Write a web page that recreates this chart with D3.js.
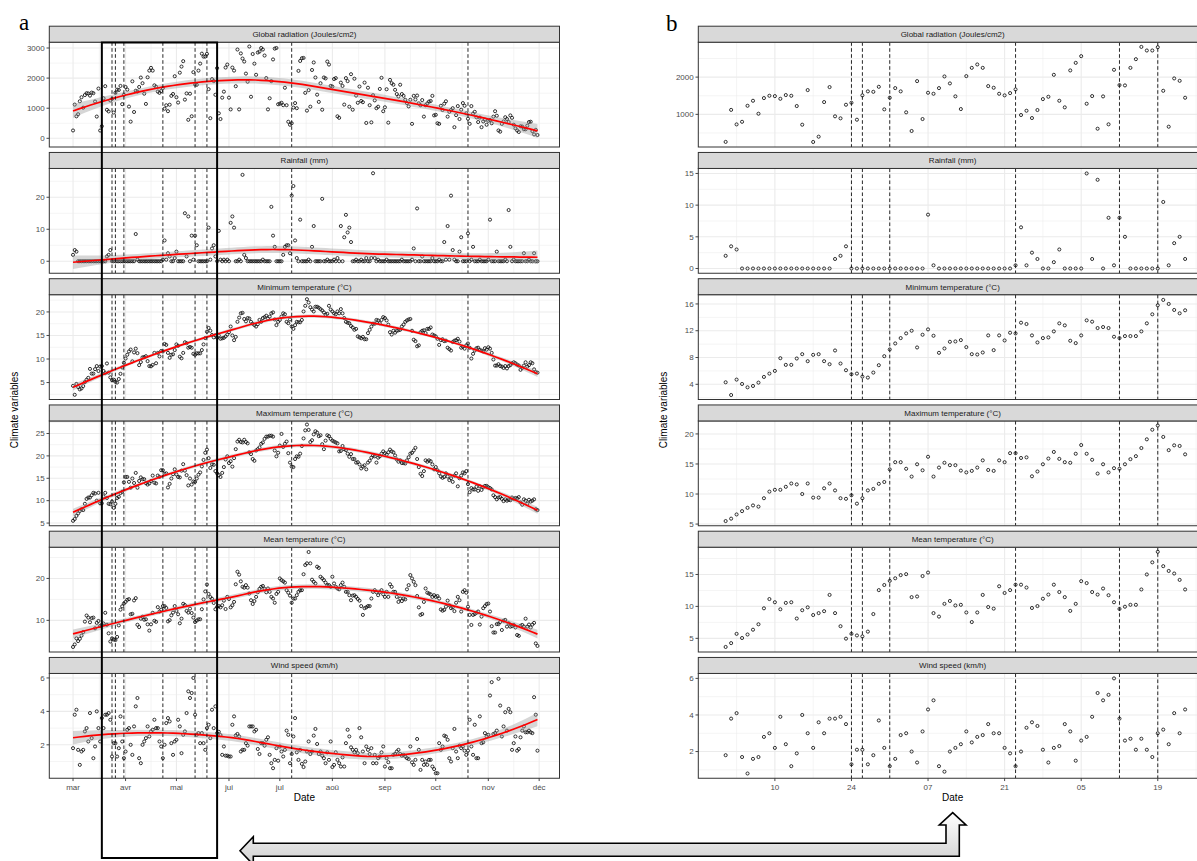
<!DOCTYPE html>
<html><head><meta charset="utf-8">
<script src="https://cdn.jsdelivr.net/npm/d3@7"></script>
<style>body{margin:0;background:#fff}svg text{font-family:"Liberation Sans",Arial,Helvetica,sans-serif}svg text.letter{font-family:"Liberation Serif","Times New Roman",serif}</style>
</head><body><svg id="c" width="1197" height="861"></svg>
<script>
const startDate = "2015-03-01";
const variables = ["Global radiation (Joules/cm2)","Rainfall (mm)","Minimum temperature (°C)","Maximum temperature (°C)","Mean temperature (°C)","Wind speed (km/h)"];

// ---- daily values 1 Mar - 24 May (panel b, also start of panel a)
const radB = [260,1120,730,800,1230,1365,1017,1437,1499,1490,
1418,1518,1499,1223,722,1652,258,400,1330,1732,
947,893,1258,1311,856,1510,1617,1605,1740,1134,
1446,1705,1617,1054,553,1893,874,1580,1553,1705,
2018,1831,1483,1142,2027,2249,2340,2249,1759,1714,
1553,1510,1571,1670,982,1097,901,1116,1410,1472,
2062,1365,1188,2180,2383,2563,1285,1491,614,1482,
732,2197,1786,1777,2249,2482,2812,2715,2715,2804,
1633,668,1965,1901,1446];
const rainB = [2.0,3.5,3.0,0,0,0,0,0,0,0,
0,0,0,0,0,0,0,0,0,0,
1.5,2.0,3.5,0,0,0,0,0,0,0,
0,0,0,0,0,0,0,8.5,0.5,0,
0,0,0,0,0,0,0,0,0,0,
0,0,0,0.5,6.5,0.5,2.5,1.5,0,0,
1.0,3.0,0,0,0,0,15,1.5,14,0,
8,0.5,8,5,0,0,0,0,0,0,
10.5,0.5,4,5,1.5];
const tminB = [4.3,2.4,4.7,4.05,3.55,3.75,4.25,5.1,5.6,6.0,
7.9,6.9,6.9,7.85,8.5,7.45,8.4,8.5,7.45,7.0,
9.05,7.1,6.1,5.5,5.6,5.15,5.0,5.75,6.85,8.2,
9.2,10.1,10.9,11.6,12.0,9.5,11.4,12.2,11.25,8.7,
9.35,10.35,10.4,10.6,9.55,8.5,8.45,8.75,11.3,9.1,
11.3,10.55,11.7,11.6,13.2,13.0,11.3,10.25,10.9,11.0,
11.9,13.1,12.8,10.5,10.15,11.3,13.55,13.35,12.4,12.55,
12.4,11.1,10.9,11.2,11.2,11.2,11.9,13.1,14.45,15.8,
16.6,16.0,15.1,14.6,15.05];
const tmaxB = [5.5,5.9,6.6,7.15,7.7,8.1,7.9,9.3,10.4,10.7,
10.7,11.2,11.75,11.6,10.0,11.75,9.4,9.4,10.95,11.75,
10.6,9.3,9.2,9.8,8.4,9.3,10.6,10.85,11.7,12.0,
14.1,15.3,15.3,14.2,12.9,14.95,13.95,16.2,12.9,14.4,
15.2,14.8,14.8,13.9,13.6,13.85,14.4,15.6,14.0,13.85,
15.6,15.3,16.8,16.8,16.0,16.1,12.95,13.75,14.95,15.9,
17.0,15.85,15.3,15.2,16.7,18.15,16.7,15.7,13.4,14.95,
13.6,14.3,14.2,14.95,15.8,16.3,17.65,19.1,20.7,21.4,
19.5,17.3,18.1,18.0,16.6];
const tmeanB = [3.65,4.25,5.7,5.05,5.6,6.35,7.2,9.7,11.15,10.65,
9.55,10.55,10.65,8.1,9.4,9.85,8.65,8.95,9.25,11.8,
8.95,6.9,4.95,5.7,5.45,5.3,6.05,8.8,12.55,13.35,
14.0,14.4,14.9,15.05,11.45,11.55,14.75,15.3,8.95,8.4,
10.4,10.85,10.15,10.25,9.05,7.55,9.05,11.8,9.9,9.65,
13.15,12.1,12.55,13.4,13.4,12.95,9.75,10.05,11.2,11.85,
13.4,12.25,11.45,9.3,10.4,13.95,13.65,12.25,11.85,12.8,
11.75,10.65,9.6,9.95,10.25,10.25,12.65,15.0,16.9,18.55,
16.3,15.55,15.15,14.15,12.65];
const windB = [1.8,3.8,4.1,1.7,0.8,1.6,1.7,2.8,3.0,2.2,
3.9,2.4,1.2,1.9,4.0,3.0,2.2,3.6,3.0,3.8,
3.8,3.9,3.5,1.3,2.1,2.1,1.3,1.8,3.7,2.2,
1.2,1.6,2.9,3.0,2.0,1.4,3.1,4.3,4.8,1.2,
0.9,2.0,2.2,2.4,3.1,2.5,2.8,2.9,3.5,3.0,
3.0,2.2,1.9,1.2,2.0,3.3,3.6,3.4,2.1,1.4,
2.2,2.3,3.5,3.1,1.5,2.6,2.8,3.9,5.2,4.8,
5.1,6.0,3.8,2.6,2.7,2.1,2.7,2.1,1.7,3.0,
3.2,2.4,4.1,3.0,4.3];

// ---- daily values 25 May - 30 Nov (rest of panel a)
const radRest = [2330,830,640,1350,1550,2350,2450,1350,960,2350,
2250,1730,2950,960,2820,2650,2550,2150,1880,3050,
1380,2800,2480,2110,2850,2880,3000,2950,2750,2000,
960,1330,1900,2620,2980,3000,1130,1150,1180,1100,
1680,1100,550,450,500,1020,1170,1000,2240,2570,
2660,2670,1510,920,1600,1050,2270,2520,2020,1450,
1210,1830,950,2020,1990,2550,2450,1740,1720,1970,
2000,730,680,1850,1740,1120,2000,1900,1050,2130,
950,1980,1420,1180,1720,1240,1200,1850,510,1680,
1100,530,1430,1260,1000,1050,1640,2010,900,1030,
1630,520,1940,1830,1780,1610,1470,1390,1780,1470,
1410,1280,1170,1060,1280,480,1410,1290,1420,1160,
1100,1270,720,1100,1160,1220,1240,1410,760,780,
500,480,1080,940,1150,1230,720,880,940,1000,
370,770,1070,640,950,1170,1080,830,650,480,
1070,820,880,700,540,690,370,560,620,450,
580,610,500,720,900,750,260,220,480,560,
700,640,540,760,680,450,330,260,210,400,
390,300,300,420,540,550,240,130,280,110];
const rainRest = [0,9.5,0.5,0,0.5,0,0.5,0,12,14,
10.5,0,0,0.5,0,27,2,1,0,0,
0,0,0,0,0,0,0,0.5,0,0,
0,0,17,8,4.5,0,0,0,0,2,
4.5,5,5,2.5,20.5,23.5,6.5,1,0,13,
0,0,0,0,0.5,0,4.5,11,0,0,
0,0,19.5,0,0,0.5,0,0,0,0.5,
0,1,0,11,0,7.5,14.5,9,10.5,6,
0,0,0.5,0,0,0.5,0,0,1,0,
0,1,27.5,1,0,0.5,0,0,0,0,
0.5,0,0,0,0,0,0,0,0,0.5,
0,0,0,0,0,0.5,4,0,16.5,0,
0,1.5,0,0,0,0,0,1,0,0,
0,0.5,0,0,6,0.5,11,0.5,20.5,3.5,
0.5,0,0,3,7.5,0,0,0,8.7,0,
0.5,4.5,0,0,0,0.5,0,0,0,0,
0.5,13,0,0,0,3,0,0,0,0,
0.5,0,16,4.5,0,0.5,0,0,0,0,
0,2.5,0,0,0.5,0,0,2.5,0,0];
const tminRest = [14.5,15.0,14.3,14.4,14.5,14.8,15.2,15.7,16.9,15.0,
14.0,14.7,17.9,18.8,19.7,19.8,18.5,18.0,18.7,18.6,
17.9,17.5,17.2,16.9,17.4,18.3,17.9,18.7,18.9,19.2,
18.6,19.0,19.7,19.9,18.4,17.2,17.9,18.3,19.0,19.7,
19.5,17.9,17.6,18.4,16.9,16.4,17.2,17.9,17.8,17.8,
18.3,20.1,21.3,22.7,22.0,21.0,20.5,20.1,21.1,21.1,
20.9,20.6,20.3,19.9,19.4,19.6,21.3,20.5,20.1,19.7,
19.5,20.1,19.7,20.6,19.7,18.7,17.9,17.7,17.6,17.0,
16.7,16.2,16.4,14.8,14.6,14.4,14.7,14.2,14.2,15.5,
16.2,16.9,17.5,17.5,18.3,18.2,17.6,18.3,18.9,18.7,
18.2,17.3,15.7,15.2,16.0,15.6,16.0,16.1,16.2,16.9,
17.3,17.9,18.2,18.4,18.5,16.0,14.1,13.8,12.7,12.9,
15.7,16.0,16.1,15.5,16.4,16.4,16.7,15.2,15.0,14.8,
14.3,13.0,14.0,14.2,13.8,13.9,12.4,12.1,11.8,13.6,
13.9,14.0,14.3,13.7,12.4,12.6,12.2,12.9,13.3,12.4,
10.1,11.1,11.8,12.3,12.4,11.9,11.8,11.6,12.3,12.0,
12.5,12.2,11.3,9.9,8.6,8.6,8.9,8.5,8.4,8.1,
8.5,8.0,8.5,8.7,9.1,9.3,9.1,8.8,8.6,7.7,
8.1,8.6,9.3,8.4,8.7,9.3,9.1,7.8,7.2,7.1];
const tmaxRest = [16.1,15.7,15.3,16.2,17.5,19.2,19.9,18.4,18.8,17.6,
19.5,21.5,23.2,23.6,23.1,23.0,23.6,23.1,22.8,20.8,
20.4,19.3,18.9,21.2,21.5,21.9,22.7,23.0,23.8,24.3,
24.3,24.5,24.5,24.3,21.2,19.9,20.7,22.3,24.9,22.0,
22.7,23.2,20.6,18.5,17.6,17.5,19.3,19.9,19.8,20.5,
22.2,23.9,25.7,27.0,25.8,23.1,23.5,24.8,25.5,25.2,
24.4,24.6,22.6,21.5,23.4,24.6,24.4,23.8,23.4,23.2,
23.0,22.8,21.0,21.1,22.2,21.5,21.3,20.5,19.8,20.4,
19.3,19.3,18.5,18.6,18.1,17.2,17.6,17.9,17.0,18.5,
18.9,19.6,20.1,19.9,18.5,19.6,19.9,20.5,21.0,20.6,
20.3,20.8,21.4,21.0,20.8,20.1,19.2,18.7,19.0,18.4,
18.4,18.3,19.0,19.7,20.5,20.7,21.2,21.8,19.3,17.5,
16.0,15.5,16.6,19.0,18.7,19.0,18.8,18.1,17.0,17.5,
16.8,16.1,15.4,15.1,15.3,16.1,15.4,14.6,15.0,14.2,
15.6,16.1,13.2,15.0,15.6,16.3,16.1,16.6,13.7,11.9,
12.8,12.5,12.5,13.1,12.2,13.2,12.4,13.0,13.3,13.3,
13.0,12.8,12.5,11.2,10.8,10.3,10.7,10.8,10.4,9.9,
10.3,10.0,10.2,10.1,10.7,10.4,10.6,10.5,10.8,9.6,
9.1,10.3,10.0,9.3,10.2,9.8,10.0,10.3,8.1,7.9];
const tmeanRest = [13.2,13.4,13.1,13.6,14.7,12.7,15.6,15.1,13.1,13.6,
14.4,18.6,21.6,20.9,19.3,18.0,17.8,18.4,17.8,16.4,
14.8,13.9,14.6,15.6,16.7,17.5,18.0,18.2,17.5,16.7,
17.6,16.8,15.6,15.2,14.2,16.3,16.8,20.0,19.6,19.3,
19.0,17.2,16.6,15.9,14.2,15.2,15.2,16.0,16.8,17.2,
17.2,21.0,23.2,23.6,26.3,23.6,19.7,19.2,18.8,22.8,
22.5,20.4,20.0,19.6,19.0,18.4,18.4,18.0,20.4,18.8,
18.0,17.6,17.4,18.4,19.0,18.0,16.8,16.8,16.0,14.8,
15.9,16.0,15.6,15.1,14.7,13.4,11.3,12.9,13.1,13.4,
13.4,15.2,16.8,17.2,16.7,16.0,16.7,17.2,16.2,15.6,
16.8,15.6,18.6,18.0,16.8,16.8,15.6,14.4,15.2,14.6,
15.2,15.0,17.4,18.4,20.8,20.0,19.2,18.4,15.8,13.1,
11.3,11.5,14.4,17.6,16.6,16.4,16.2,15.6,16.0,15.6,
15.8,15.2,12.6,12.3,12.5,13.25,14.7,13.6,12.9,13.1,
12.2,14.2,15.6,14.8,12.1,16.8,17.2,16.6,13.25,11.3,
8.9,11.3,11.5,11.8,12.1,9.0,10.9,12.9,13.4,13.9,
14.0,12.1,8.6,7.1,7.1,9.1,9.1,9.6,7.7,9.9,
10.1,8.5,9.3,8.5,8.6,8.9,8.3,6.5,6.3,8.7,
8.9,8.5,10.4,8.5,9.0,8.3,9.0,9.4,4.5,3.9];
const windRest = [2.7,2.78,2.58,1.4,1.9,1.35,1.35,1.3,1.3,3.2,
3.7,2.56,2.65,2.5,1.6,1.7,1.7,2.1,1.95,3.1,
3.1,3.1,2.8,2.9,1.75,1.45,2.1,2.1,1.95,2.3,
2.45,1.4,0.9,0.6,1.1,1.8,1.05,1.9,1.6,1.3,
1.7,2.85,2.6,0.9,1.45,2.5,3.6,1.55,1.1,1.7,
0.86,0.67,1.0,1.6,2.2,1.45,1.6,2.55,2.95,2.05,
1.45,1.6,1.35,1.2,0.9,1.55,1.1,2.2,0.67,0.8,
1.55,1.1,0.9,0.7,1.25,0.7,2.1,2.9,2.5,1.85,
1.7,1.55,1.7,1.5,3.0,2.45,1.6,0.9,1.9,1.7,
1.45,1.8,0.9,1.4,0.9,1.2,1.3,1.55,1.9,0.7,
1.2,0.96,0.6,0.6,1.4,1.45,1.6,1.7,1.45,1.35,
1.4,1.3,1.2,1.15,1.9,0.95,0.8,1.1,2.35,1.7,
0.5,1.1,0.8,1.0,0.8,1.1,1.1,0.7,0.55,0.3,
0.3,2.1,1.7,1.9,2.55,2.5,2.3,1.2,1.0,1.8,
2.95,1.6,1.2,1.95,1.8,1.9,1.65,1.4,1.65,3.5,
1.9,1.4,3.2,1.2,1.2,3.7,2.1,2.15,2.7,2.5,
2.6,4.95,5.75,2.65,2.7,2.85,5.95,4.35,2.5,3.1,
3.95,2.85,4.15,3.95,1.7,2.1,2.5,1.65,1.75,2.45,
2.85,3.1,2.75,2.75,2.85,2.75,2.7,4.85,3.8,1.65];

const monthTicks = ["2015-03-01","2015-04-01","2015-05-01","2015-06-01","2015-07-01","2015-08-01","2015-09-01","2015-10-01","2015-11-01","2015-12-01"];
const monthLabels = ["mar","avr","mai","jui","jul","aoû","sep","oct","nov","déc"];
const dayTicksB = ["2015-03-10","2015-03-24","2015-04-07","2015-04-21","2015-05-05","2015-05-19"];
const dayLabelsB = ["10","24","07","21","05","19"];
const eventDates = ["2015-03-24","2015-03-26","2015-03-31","2015-04-23","2015-05-12","2015-05-19","2015-07-08","2015-10-20"];
const zoomWindow = ["2015-03-18","2015-05-25"];
const yTicksA = [[0,1000,2000,3000],[0,10,20],[5,10,15,20],[5,10,15,20,25],[10,20],[2,4,6]];
const yTicksB = [[1000,2000],[0,5,10,15],[4,8,12,16],[5,10,15,20],[5,10,15],[2,4,6]];
const yDomainA = [[-289,3193],[-3.75,29.0],[1.4,23.66],[4.4,27.8],[2.45,27.45],[0,6.27]];
const yDomainB = [[123,2938],[-0.75,15.79],[1.73,17.38],[4.72,22.16],[2.86,19.27],[0.54,6.27]];

// ------------------------------------------------------------------
const parse = d3.utcParse("%Y-%m-%d");
const start = parse(startDate);
const dateOf = i => d3.utcDay.offset(start, i);
const seriesB = [radB, rainB, tminB, tmaxB, tmeanB, windB];
const rests = [radRest, rainRest, tminRest, tmaxRest, tmeanRest, windRest];
const seriesA = seriesB.map((s, k) => s.concat(rests[k]));

// loess (degree 2, span 0.75, tricube) with standard errors, as geom_smooth
function inv3row0(m){
  const [a,b,c]=m[0],[d,e,f]=m[1],[g,h,i]=m[2];
  const A=e*i-f*h, B=-(d*i-f*g), C=d*h-e*g;
  const det=a*A+b*B+c*C;
  return [A/det, -(b*i-c*h)/det, (b*f-c*e)/det];
}
function loessRow(xs, x0, q){
  const d = xs.map(x => Math.abs(x - x0));
  const s = d.slice().sort((a,b)=>a-b);
  const h = Math.max(s[q-1], 1e-9) * 1.000001;
  const w = d.map(v => v < h ? Math.pow(1 - Math.pow(v/h,3),3) : 0);
  const S = [[0,0,0],[0,0,0],[0,0,0]];
  xs.forEach((x,i) => { const u=(x-x0)/h, b=[1,u,u*u];
    for (let j=0;j<3;j++) for (let k=0;k<3;k++) S[j][k]+=w[i]*b[j]*b[k]; });
  const r = inv3row0(S);
  return xs.map((x,i) => { const u=(x-x0)/h; return w[i]*(r[0]+r[1]*u+r[2]*u*u); });
}
function loess(ys, span, nEval){
  const n = ys.length, xs = d3.range(n), q = Math.floor(n*span);
  let trL = 0, trLL = 0, rss = 0;
  xs.forEach(k => { const l = loessRow(xs, k, q);
    const fit = d3.sum(l, (v,i)=>v*ys[i]);
    rss += (ys[k]-fit)**2; trL += l[k]; trLL += d3.sum(l, v=>v*v); });
  const delta1 = n - 2*trL + trLL;
  const sig = Math.sqrt(rss / delta1);
  return d3.range(nEval).map(j => {
    const x0 = j*(n-1)/(nEval-1);
    const l = loessRow(xs, x0, q);
    const fit = d3.sum(l, (v,i)=>v*ys[i]);
    const se = sig*Math.sqrt(d3.sum(l, v=>v*v));
    return {x:x0, y:fit, lo:fit-1.97*se, hi:fit+1.97*se};
  });
}

const svg = d3.select("#c");
const defs = svg.append("defs");
const stripH = 16, plotH = 104.8;
const rowTop = i => 26.2 + i*126.25;

function midpoints(arr){ const out=[]; for(let i=0;i<arr.length-1;i++) out.push((arr[i]+arr[i+1])/2); return out; }

function drawSet(cfg){
  const {id, x0, x1, xs, series, domains, ticks, smooth, xMajor, xMinor, xLabels} = cfg;
  series.forEach((vals, i) => {
    const top = rowTop(i) + stripH, bot = top + plotH;
    const y = d3.scaleLinear().domain(domains[i]).range([bot, top]);
    const cid = id + "clip" + i;
    defs.append("clipPath").attr("id", cid).append("rect")
      .attr("x", x0).attr("y", top).attr("width", x1 - x0).attr("height", plotH);
    const g = svg.append("g");
    const pg = g.append("g").attr("clip-path", `url(#${cid})`);
    pg.append("rect").attr("x",x0).attr("y",top).attr("width",x1-x0).attr("height",plotH).attr("fill","#fff");
    const tk = ticks[i], step = tk.length > 1 ? tk[1]-tk[0] : 1;
    const yMin = [tk[0]-step/2, ...midpoints(tk), tk[tk.length-1]+step/2]
      .filter(v => v > domains[i][0] && v < domains[i][1]);
    pg.selectAll(null).data(yMin).join("line")
      .attr("x1",x0).attr("x2",x1).attr("y1",d=>y(d)).attr("y2",d=>y(d))
      .attr("stroke","#EBEBEB").attr("stroke-width",0.55);
    pg.selectAll(null).data(xMinor).join("line")
      .attr("x1",d=>xs(d)).attr("x2",d=>xs(d)).attr("y1",top).attr("y2",bot)
      .attr("stroke","#EBEBEB").attr("stroke-width",0.55);
    pg.selectAll(null).data(tk).join("line")
      .attr("x1",x0).attr("x2",x1).attr("y1",d=>y(d)).attr("y2",d=>y(d))
      .attr("stroke","#EBEBEB").attr("stroke-width",1.1);
    pg.selectAll(null).data(xMajor).join("line")
      .attr("x1",d=>xs(d)).attr("x2",d=>xs(d)).attr("y1",top).attr("y2",bot)
      .attr("stroke","#EBEBEB").attr("stroke-width",1.1);
    pg.selectAll(null).data(vals).join("circle")
      .attr("cx",(d,k)=>xs(dateOf(k))).attr("cy",d=>y(d)).attr("r",1.55)
      .attr("fill","none").attr("stroke","#111").attr("stroke-width",0.85);
    if (smooth) {
      const sm = loess(vals, 0.75, 80);
      const xf = d => xs(dateOf(0).getTime()+d.x*864e5);
      pg.append("path").datum(sm)
        .attr("d", d3.area().x(xf).y0(d=>y(d.lo)).y1(d=>y(d.hi)))
        .attr("fill","#999").attr("fill-opacity",0.4);
      pg.append("path").datum(sm)
        .attr("d", d3.line().x(xf).y(d=>y(d.y)))
        .attr("fill","none").attr("stroke","#FF0000").attr("stroke-width",1.7);
    }
    pg.selectAll(null).data(eventDates.map(parse)).join("line")
      .attr("x1",d=>xs(d)).attr("x2",d=>xs(d)).attr("y1",top).attr("y2",bot)
      .attr("stroke","#111").attr("stroke-width",0.9).attr("stroke-dasharray","3.6,2.4");
    g.append("rect").attr("x",x0).attr("y",top).attr("width",x1-x0).attr("height",plotH)
      .attr("fill","none").attr("stroke","#333").attr("stroke-width",1);
    g.append("rect").attr("x",x0).attr("y",rowTop(i)).attr("width",x1-x0).attr("height",stripH)
      .attr("fill","#D9D9D9").attr("stroke","#333").attr("stroke-width",1);
    g.append("text").attr("x",(x0+x1)/2)
      .attr("y",rowTop(i)+stripH/2).attr("dy","0.35em").attr("text-anchor","middle")
      .attr("font-size",8).attr("fill","#1A1A1A").text(variables[i]);
    const ya = g.append("g");
    ya.selectAll(null).data(tk).join("line")
      .attr("x1",x0-2.8).attr("x2",x0).attr("y1",d=>y(d)).attr("y2",d=>y(d))
      .attr("stroke","#333").attr("stroke-width",0.9);
    ya.selectAll(null).data(tk).join("text")
      .attr("x",x0-4.6).attr("y",d=>y(d)).attr("dy","0.34em").attr("text-anchor","end")
      .attr("font-size",8).attr("fill","#4D4D4D").text(d=>d);
    if (i === series.length-1) {
      const xa = g.append("g");
      xa.selectAll(null).data(xMajor).join("line")
        .attr("x1",d=>xs(d)).attr("x2",d=>xs(d)).attr("y1",bot).attr("y2",bot+2.8)
        .attr("stroke","#333").attr("stroke-width",0.9);
      xa.selectAll(null).data(xMajor).join("text")
        .attr("x",d=>xs(d)).attr("y",bot+11.5).attr("text-anchor","middle")
        .attr("font-size",8).attr("fill","#4D4D4D").text((d,k)=>xLabels[k]);
      g.append("text").attr("x",(xs.range()[0]+xs.range()[1])/2).attr("y",801)
        .attr("text-anchor","middle").attr("font-size",10).attr("fill","#000").text("Date");
    }
  });
  svg.append("text").attr("transform",`translate(${x0-31.5},410) rotate(-90)`)
    .attr("text-anchor","middle").attr("font-size",10).attr("fill","#000").text("Climate variables");
}

const nA = seriesA[0].length, nB = seriesB[0].length;
function expandedDomain(n){ const pad = (n-1)*0.05; return [dateOf(-pad), dateOf(n-1+pad)]; }
const xA = d3.scaleUtc().domain(expandedDomain(nA)).range([49.3, 559.5]);
const xB = d3.scaleUtc().domain(expandedDomain(nB)).range([698.3, 1207]);
const mT = monthTicks.map(parse);
const bT = dayTicksB.map(parse);
const bMinor = [d3.utcDay.offset(bT[0],-7), ...bT.map(d=>d3.utcDay.offset(d,7))];
drawSet({id:"a", x0:49.3, x1:559.5, xs:xA, series:seriesA, domains:yDomainA, ticks:yTicksA, smooth:true,
  xMajor:mT, xMinor:midpoints(mT.map(d=>+d)).map(v=>new Date(v)), xLabels:monthLabels});
drawSet({id:"b", x0:698.3, x1:1207, xs:xB, series:seriesB, domains:yDomainB, ticks:yTicksB, smooth:false,
  xMajor:bT, xMinor:bMinor.filter(d=>d>xB.domain()[0] && d<xB.domain()[1]), xLabels:dayLabelsB});

svg.append("text").attr("class","letter").attr("x",19).attr("y",30)
  .attr("font-size",23).attr("fill","#000").text("a");
svg.append("text").attr("class","letter").attr("x",666).attr("y",31)
  .attr("font-size",23).attr("fill","#000").text("b");

const wz = zoomWindow.map(parse);
svg.append("rect").attr("x",xA(wz[0])).attr("y",42.5).attr("width",xA(wz[1])-xA(wz[0])).attr("height",815.5)
  .attr("fill","none").attr("stroke","#000").attr("stroke-width",2);

const grad = defs.append("linearGradient").attr("id","ag").attr("x1",0).attr("y1",0).attr("x2",0).attr("y2",1);
grad.append("stop").attr("offset","0%").attr("stop-color","#ffffff");
grad.append("stop").attr("offset","100%").attr("stop-color","#d0d0d0");
svg.append("path")
  .attr("d","M240,850.7 L253.3,836.7 L253.3,843.3 L946,843.3 L946,825 L939.3,825 L952.7,812.7 L966,825 L959.3,825 L959.3,856.3 L253.3,856.3 L253.3,864.7 Z")
  .attr("fill","url(#ag)").attr("stroke","#000").attr("stroke-width",1.6).attr("stroke-linejoin","miter");
</script></body></html>
